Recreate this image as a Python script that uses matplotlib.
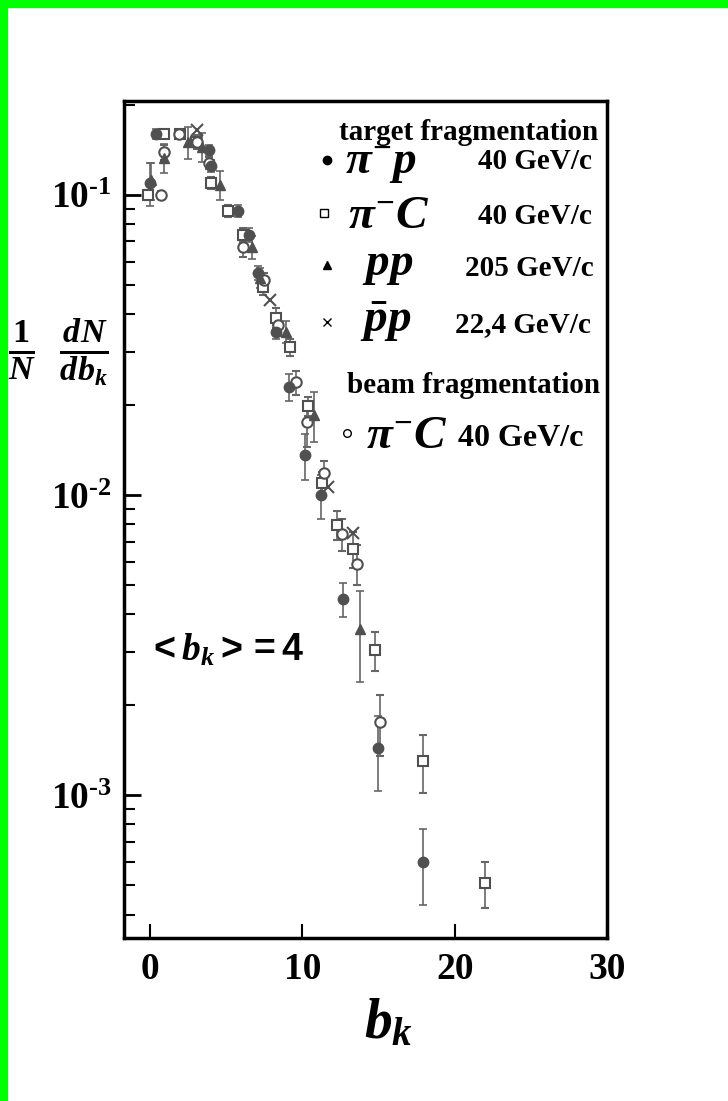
import matplotlib
matplotlib.use("Agg")
import matplotlib.pyplot as plt
from matplotlib.patches import Rectangle
from matplotlib.ticker import LogLocator, NullFormatter, FixedLocator

plt.rcParams['font.family'] = ['Liberation Serif', 'DejaVu Serif']
plt.rcParams['font.weight'] = 'bold'
plt.rcParams['mathtext.fontset'] = 'custom'
plt.rcParams['mathtext.rm'] = 'Liberation Serif:bold'
plt.rcParams['mathtext.bf'] = 'Liberation Serif:bold'
plt.rcParams['mathtext.it'] = 'Liberation Serif:italic:bold'
plt.rcParams['mathtext.sf'] = 'Liberation Sans:bold'

# pi- p, 40 GeV/c, target fragmentation (filled circles)
pim_p_b = [0.0, 0.4, 3.9, 4.0, 5.8, 6.5, 7.1, 8.3, 9.1, 10.2, 11.2, 12.7, 15.0, 17.9]
pim_p_y = [0.110, 0.160, 0.141, 0.125, 0.0885, 0.0736, 0.055, 0.035, 0.0229, 0.0136,
           0.0100, 0.00451, 0.00143, 0.000600]
pim_p_e = [0.018, 0.006, 0.006, 0.006, 0.004, 0.004, 0.003, 0.002, 0.0024, 0.0024,
           0.0017, 0.0006, 0.0004, 0.00017]

# pi- C, 40 GeV/c, target fragmentation (open squares)
pim_c_b = [-0.1, 0.9, 2.0, 3.0, 4.0, 5.1, 6.1, 7.4, 8.3, 9.2, 10.4, 11.3, 12.3, 13.3,
           14.8, 17.9, 22.0]
pim_c_y = [0.100, 0.160, 0.160, 0.150, 0.110, 0.0885, 0.0736, 0.0494, 0.0389, 0.0311,
           0.0198, 0.0110, 0.00796, 0.00662, 0.00305, 0.00130, 0.000510]
pim_c_e = [0.004, 0.005, 0.005, 0.006, 0.005, 0.004, 0.004, 0.003, 0.003, 0.002,
           0.0015, 0.0009, 0.0009, 0.0009, 0.00045, 0.00028, 0.00009]

# p p, 205 GeV/c (filled triangles)
pp_b = [0.1, 0.9, 2.5, 3.4, 4.6, 6.7, 7.2, 8.9, 10.8, 13.8]
pp_y = [0.112, 0.133, 0.150, 0.145, 0.108, 0.067, 0.053, 0.035, 0.0185, 0.00359]
pp_e = [0.016, 0.015, 0.018, 0.016, 0.012, 0.006, 0.004, 0.003, 0.0035, 0.0012]

# pbar p, 22.4 GeV/c (crosses)
ppbar_b = [3.1, 7.9, 11.7, 13.3]
ppbar_y = [0.165, 0.0447, 0.0106, 0.0075]

# pi- C, 40 GeV/c, beam fragmentation (open circles)
beam_b = [0.7, 0.9, 1.9, 3.1, 3.9, 6.1, 7.5, 8.4, 9.6, 10.3, 11.4, 12.6, 13.6, 15.1]
beam_y = [0.100, 0.139, 0.160, 0.150, 0.128, 0.067, 0.052, 0.037, 0.0238, 0.0175,
          0.0118, 0.00739, 0.0059, 0.00175]
beam_e = [0.003, 0.008, 0.005, 0.008, 0.006, 0.005, 0.003, 0.003, 0.0022, 0.0030,
          0.0012, 0.0009, 0.0009, 0.0004]

W, H = 728, 1101
fig = plt.figure(figsize=(W / 100, H / 100), dpi=100)
fig.patch.set_facecolor('white')

def fx(px):
    return px / W

def fy(py):
    return 1 - py / H

# green frame on the top and left edges
fig.patches.append(Rectangle((0, fy(7)), 1, 7 / H, transform=fig.transFigure,
                             color='#00ff00', zorder=0))
fig.patches.append(Rectangle((0, 0), 7 / W, 1, transform=fig.transFigure,
                             color='#00ff00', zorder=0))

ax = fig.add_axes([fx(124), fy(938), fx(607) - fx(124), fy(101) - fy(938)])
ax.set_yscale('log')
ax.set_xlim(-1.7, 30)
ax.set_ylim(3.34e-4, 0.2057)

gray = '#505050'
ebar = dict(capsize=3, elinewidth=1.2, capthick=1.2, ecolor='#666666', ls='none')
ax.errorbar(pim_c_b, pim_c_y, yerr=pim_c_e, fmt='s', ms=7.5, mfc='white', mec=gray,
            mew=1.5, **ebar)
ax.errorbar(beam_b, beam_y, yerr=beam_e, fmt='o', ms=7.5, mfc='white', mec=gray,
            mew=1.5, **ebar)
ax.errorbar(pp_b, pp_y, yerr=pp_e, fmt='^', ms=7.5, mfc=gray, mec=gray, **ebar)
ax.errorbar(pim_p_b, pim_p_y, yerr=pim_p_e, fmt='o', ms=7.5, mfc=gray, mec=gray, **ebar)
ax.plot(ppbar_b, ppbar_y, 'x', ms=9, mew=1.5, color=gray, ls='none')

for s in ax.spines.values():
    s.set_linewidth(2.5)

ax.xaxis.set_major_locator(FixedLocator([0, 10, 20, 30]))
ax.set_xticklabels(['0', '10', '20', '30'], fontsize=27, fontweight='bold')
ax.tick_params(axis='x', direction='in', length=10, width=1.5, pad=10,
               top=False)
ax.set_yticks([1e-3, 1e-2, 1e-1])
ax.set_yticklabels([r'$\mathbf{10^{\text{-}3}}$', r'$\mathbf{10^{\text{-}2}}$',
                    r'$\mathbf{10^{\text{-}1}}$'], fontsize=27)
ax.yaxis.set_minor_locator(LogLocator(base=10, subs=range(2, 10)))
ax.yaxis.set_minor_formatter(NullFormatter())
ax.tick_params(axis='y', which='major', direction='in', length=12, width=2,
               pad=9, right=False)
ax.tick_params(axis='y', which='minor', direction='in', length=8, width=1.5,
               right=False)

# legend drawn as text, placed by baseline
big = 34
small = 21
ax.text(fx(598), fy(140), 'target fragmentation', transform=fig.transFigure,
        ha='right', va='baseline', fontsize=21, fontweight='bold')
rows = [
    (174, r'$\pi^{-}p$', 169, '40 GeV/c', 345, 478),
    (228, r'$\pi^{-}C$', 224, '40 GeV/c', 348, 478),
    (275, r'$pp$', 276, '205 GeV/c', 362, 465),
    (332, r'$\bar{p}p$', 332, '22,4 GeV/c', 360, 455),
]
for py, sym, pm, mom, xs, xm in rows:
    ax.text(fx(xs), fy(py), sym, transform=fig.transFigure, ha='left',
            va='baseline', fontsize=big)
    ax.text(fx(xm), fy(pm), mom, transform=fig.transFigure, ha='left',
            va='baseline', fontsize=small, fontweight='bold')
ax.plot([fx(327)], [fy(160)], 'o', ms=6, color='black', transform=fig.transFigure,
        clip_on=False)
ax.plot([fx(324)], [fy(213)], 's', ms=5.5, mfc='white', mec='black', mew=1,
        transform=fig.transFigure, clip_on=False)
ax.plot([fx(327)], [fy(265)], '^', ms=6, color='black', transform=fig.transFigure,
        clip_on=False)
ax.plot([fx(327)], [fy(322)], 'x', ms=6, mew=1, color='black',
        transform=fig.transFigure, clip_on=False)
ax.text(fx(600), fy(393), 'beam fragmentation', transform=fig.transFigure,
        ha='right', va='baseline', fontsize=21, fontweight='bold')
ax.plot([fx(347)], [fy(433)], 'o', ms=5.5, mfc='white', mec='black', mew=1,
        transform=fig.transFigure, clip_on=False)
ax.text(fx(366), fy(448), r'$\pi^{-}C$', transform=fig.transFigure, ha='left',
        va='baseline', fontsize=big)
ax.text(fx(458), fy(446), '40 GeV/c', transform=fig.transFigure, ha='left',
        va='baseline', fontsize=23, fontweight='bold')

ax.text(fx(148), fy(650), r'$\mathsf{<}b_k\mathsf{>=4}$', transform=fig.transFigure,
        ha='left', va='center', fontsize=27)

fig.text(fx(8), fy(352), r'$\frac{\mathit{1}}{N}\;\;\frac{dN}{db_k}$', ha='left',
         va='center', fontsize=35)
fig.text(fx(388), fy(1024), r'$b_k$', ha='center', va='center', fontsize=40)

fig.savefig('out.png', dpi=100)
